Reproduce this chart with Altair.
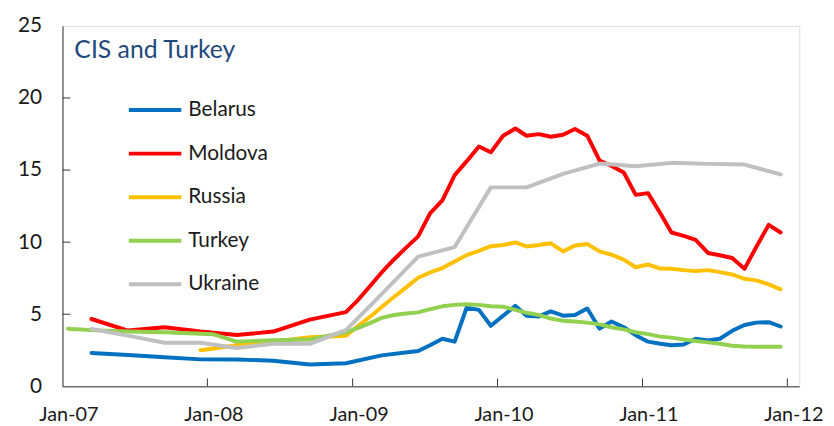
import altair as alt
import pandas as pd

# ---------------- data ----------------
series = ["Belarus", "Moldova", "Russia", "Turkey", "Ukraine"]
colors = ["#0070C0", "#FF0000", "#FFC000", "#92D050", "#C0C0C0"]

belarus_months = ["2007-03", "2007-06", "2007-09", "2007-12", "2008-03", "2008-06", "2008-09", "2008-12",
                  "2009-03", "2009-06", "2009-07", "2009-08", "2009-09", "2009-10", "2009-11", "2009-12",
                  "2010-01", "2010-02", "2010-03", "2010-04", "2010-05", "2010-06", "2010-07", "2010-08",
                  "2010-09", "2010-10", "2010-11", "2010-12", "2011-01", "2011-02", "2011-03", "2011-04",
                  "2011-05", "2011-06", "2011-07", "2011-08", "2011-09", "2011-10", "2011-11", "2011-12"]
belarus_values = [2.31, 2.18, 2.02, 1.87, 1.86, 1.78, 1.51, 1.6,
                  2.15, 2.45, 2.85, 3.3, 3.1, 5.45, 5.3, 4.2,
                  4.9, 5.58, 4.9, 4.85, 5.2, 4.9, 4.95, 5.4,
                  4.0, 4.5, 4.1, 3.55, 3.1, 2.95, 2.85, 2.9,
                  3.3, 3.18, 3.3, 3.85, 4.25, 4.42, 4.45, 4.15]

moldova_months = ["2007-03", "2007-06", "2007-09", "2007-12", "2008-03", "2008-06", "2008-09", "2008-12",
                  "2009-01", "2009-02", "2009-03", "2009-04", "2009-05", "2009-06", "2009-07", "2009-08",
                  "2009-09", "2009-10", "2009-11", "2009-12", "2010-01", "2010-02", "2010-03", "2010-04",
                  "2010-05", "2010-06", "2010-07", "2010-08", "2010-09", "2010-10", "2010-11", "2010-12",
                  "2011-01", "2011-02", "2011-03", "2011-04", "2011-05", "2011-06", "2011-07", "2011-08",
                  "2011-09", "2011-10", "2011-11", "2011-12"]
moldova_values = [4.67, 3.87, 4.1, 3.8, 3.56, 3.8, 4.63, 5.15,
                  6.0, 7.0, 7.9, 8.8, 9.6, 10.4, 12.0, 12.9,
                  14.65, 15.6, 16.64, 16.23, 17.38, 17.88, 17.38, 17.49,
                  17.31, 17.45, 17.85, 17.38, 15.66, 15.28, 14.83, 13.28,
                  13.4, 12.0, 10.67, 10.44, 10.16, 9.25, 9.09, 8.9,
                  8.15, 9.68, 11.2, 10.67]

russia_months = ["2007-12", "2008-03", "2008-06", "2008-09", "2008-12",
                 "2009-01", "2009-02", "2009-03", "2009-04", "2009-05", "2009-06", "2009-07", "2009-08",
                 "2009-09", "2009-10", "2009-11", "2009-12", "2010-01", "2010-02", "2010-03", "2010-04",
                 "2010-05", "2010-06", "2010-07", "2010-08", "2010-09", "2010-10", "2010-11", "2010-12",
                 "2011-01", "2011-02", "2011-03", "2011-04", "2011-05", "2011-06", "2011-07", "2011-08",
                 "2011-09", "2011-10", "2011-11", "2011-12"]
russia_values = [2.5, 2.85, 3.1, 3.4, 3.5,
                 4.2, 4.85, 5.5, 6.2, 6.85, 7.53, 7.9, 8.2,
                 8.65, 9.1, 9.4, 9.72, 9.8, 9.98, 9.7, 9.8,
                 9.92, 9.36, 9.77, 9.87, 9.36, 9.13, 8.79, 8.26,
                 8.45, 8.17, 8.15, 8.06, 7.99, 8.06, 7.92, 7.76,
                 7.46, 7.35, 7.07, 6.73]

turkey_months = ["2007-01", "2007-03", "2007-06", "2007-09", "2007-12", "2008-01", "2008-03", "2008-06",
                 "2008-09", "2008-12",
                 "2009-01", "2009-02", "2009-03", "2009-04", "2009-05", "2009-06", "2009-07", "2009-08",
                 "2009-09", "2009-10", "2009-11", "2009-12", "2010-01", "2010-02", "2010-03", "2010-04",
                 "2010-05", "2010-06", "2010-07", "2010-08", "2010-09", "2010-10", "2010-11", "2010-12",
                 "2011-01", "2011-02", "2011-03", "2011-04", "2011-05", "2011-06", "2011-07", "2011-08",
                 "2011-09", "2011-10", "2011-11", "2011-12"]
turkey_values = [4.0, 3.9, 3.8, 3.75, 3.65, 3.62, 3.1, 3.2,
                 3.25, 3.75,
                 4.05, 4.4, 4.75, 4.95, 5.05, 5.13, 5.35, 5.55,
                 5.65, 5.7, 5.65, 5.55, 5.52, 5.3, 5.1, 4.95,
                 4.7, 4.55, 4.5, 4.42, 4.3, 4.1, 3.95, 3.75,
                 3.62, 3.45, 3.38, 3.25, 3.15, 3.05, 2.95, 2.82,
                 2.76, 2.75, 2.75, 2.75]

ukraine_months = ["2007-03", "2007-06", "2007-09", "2007-12", "2008-03", "2008-06", "2008-09", "2008-12",
                  "2009-03", "2009-06", "2009-09", "2009-12", "2010-03", "2010-06", "2010-09", "2010-12",
                  "2011-03", "2011-06", "2011-09", "2011-12"]
ukraine_values = [3.98, 3.52, 3.02, 3.02, 2.66, 2.95, 2.95, 3.9,
                  6.4, 9.0, 9.66, 13.8, 13.8, 14.74, 15.45, 15.27,
                  15.5, 15.43, 15.38, 14.7]

title_text = "CIS and Turkey"
y_ticks = [0, 5, 10, 15, 20, 25]
x_tick_years = [2007, 2008, 2009, 2010, 2011, 2012]

# ---------------- table ----------------
rows = []
for name, months, vals in [("Belarus", belarus_months, belarus_values),
                           ("Moldova", moldova_months, moldova_values),
                           ("Russia", russia_months, russia_values),
                           ("Turkey", turkey_months, turkey_values),
                           ("Ukraine", ukraine_months, ukraine_values)]:
    for m, v in zip(months, vals):
        rows.append({"country": name, "date": m + "-15", "value": v})
df = pd.DataFrame(rows)

xtick_df = pd.DataFrame({"date": [f"{y}-01-01" for y in x_tick_years[1:]]})
ytick_df = pd.DataFrame({"value": y_ticks[1:-1]})
title_df = pd.DataFrame({"t": [title_text]})

W, H = 744, 364
FONT = "Lato"
AX = "#333333"

x_scale = alt.Scale(type="utc",
                    domain=[alt.DateTime(year=2007, month=1, date=1, utc=True),
                            alt.DateTime(year=2012, month=1, date=31, utc=True)])
y_scale = alt.Scale(domain=[0, 25], nice=False, zero=True)

lines = alt.Chart(df).mark_line(strokeWidth=4, strokeJoin="round", strokeCap="round").encode(
    x=alt.X("date:T", scale=x_scale, title=None,
            axis=alt.Axis(values=[alt.DateTime(year=y, month=1, date=1, utc=True) for y in x_tick_years],
                          labelExpr="utcFormat(datum.value, '%b-%y')", ticks=False, tickSize=0, grid=False,
                          labelPadding=18, labelOffset=6, labelFontSize=20, labelFont=FONT,
                          labelColor="#1a1a1a", domainColor=AX, labelOverlap=False, labelFlush=False)),
    y=alt.Y("value:Q", scale=y_scale, title=None,
            axis=alt.Axis(values=y_ticks, ticks=False, tickSize=0, grid=False, labelPadding=21,
                          labelFontSize=21, labelFont=FONT, labelColor="#1a1a1a", domainColor=AX)),
    color=alt.Color("country:N", scale=alt.Scale(domain=series, range=colors),
                    legend=alt.Legend(orient="none", legendX=65, legendY=73, title=None,
                                      symbolType="stroke", symbolSize=2809, symbolStrokeWidth=4,
                                      labelFontSize=21, labelFont=FONT, labelColor="#1a1a1a",
                                      rowPadding=20, clipHeight=24, labelOffset=5, padding=0)),
)

xticks = alt.Chart(xtick_df).mark_rule(color=AX, strokeWidth=1).encode(
    x=alt.X("date:T", title=None),
    y=alt.value(H),
    y2=alt.value(H - 8),
)

yticks = alt.Chart(ytick_df).mark_rule(color=AX, strokeWidth=1).encode(
    y=alt.Y("value:Q", title=None),
    x=alt.value(0),
    x2=alt.value(8),
)

title_mark = alt.Chart(title_df).mark_text(
    align="left", baseline="alphabetic", font=FONT, fontSize=25, color="#1F497D"
).encode(text="t:N", x=alt.value(12), y=alt.value(32))

chart = alt.layer(lines, xticks, yticks, title_mark).properties(
    width=W, height=H,
    autosize=alt.AutoSizeParams(type="none"),
    padding={"left": 55, "top": 16, "right": 27, "bottom": 38},
).configure_view(stroke=AX, strokeWidth=1).configure(background="white")

chart.save("out.html", embed_options={"renderer": "svg", "actions": False})
